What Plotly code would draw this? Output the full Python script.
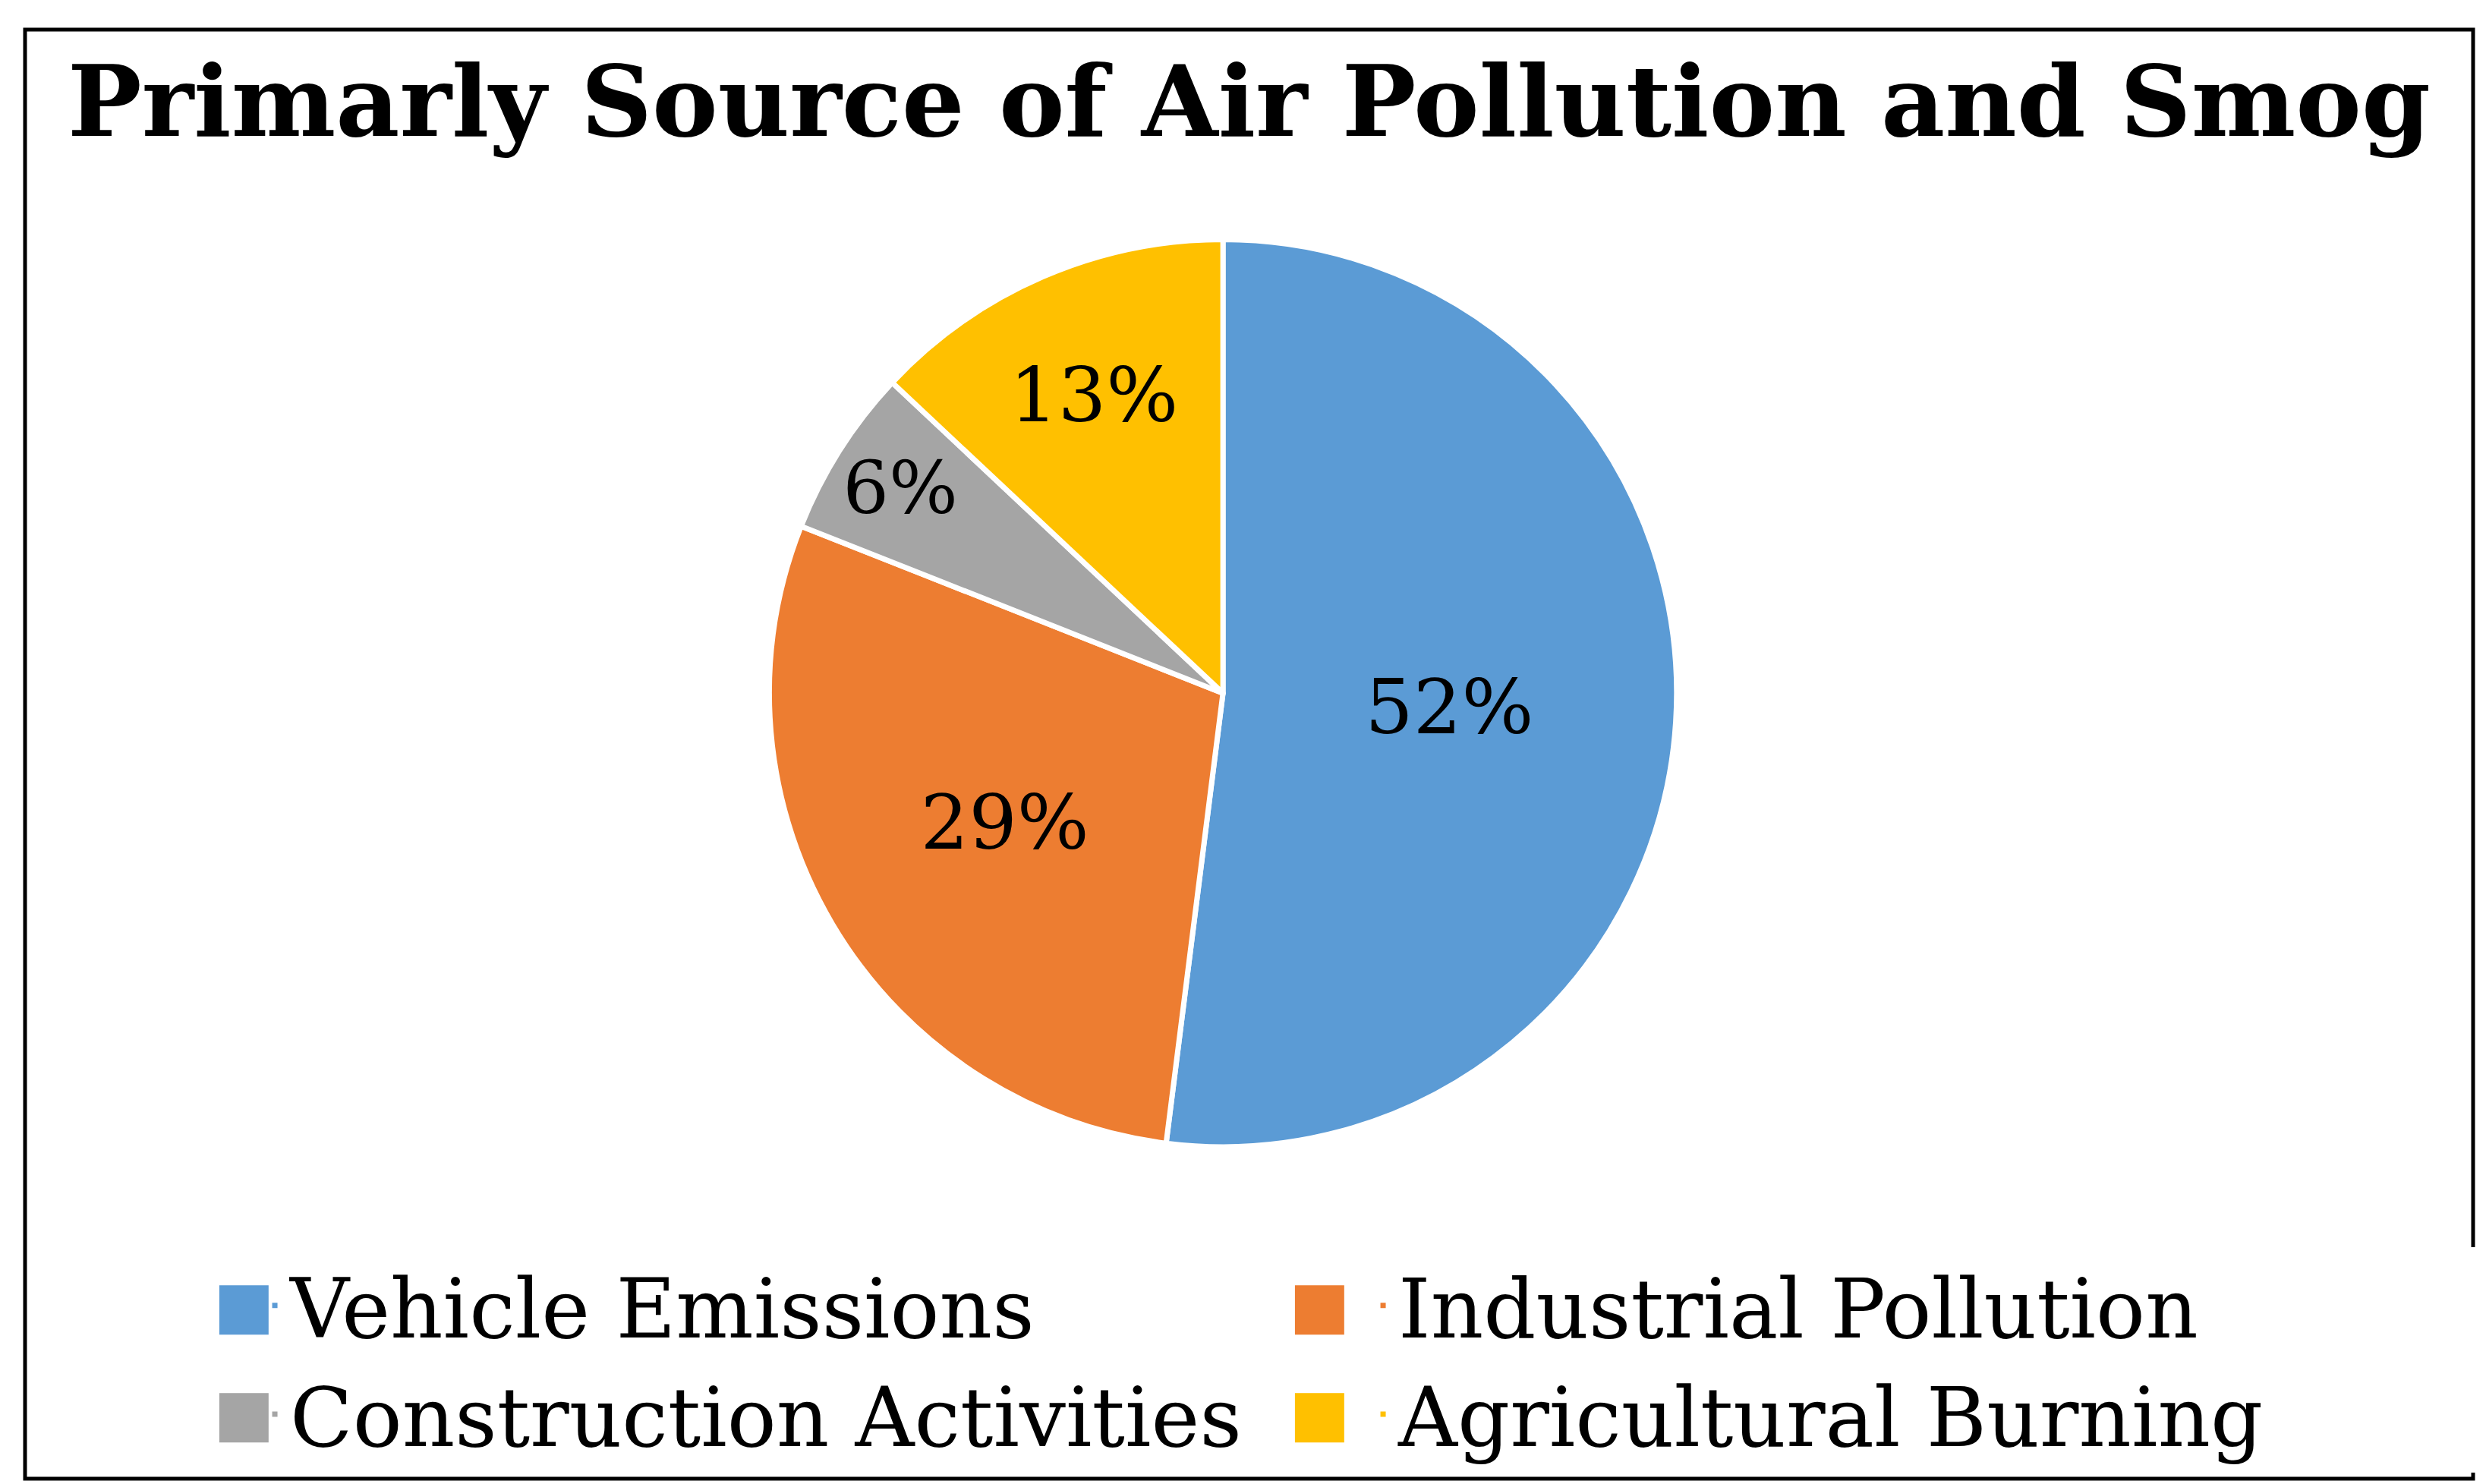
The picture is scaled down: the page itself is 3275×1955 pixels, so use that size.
import plotly.graph_objects as go

labels = ["Vehicle Emissions", "Industrial Pollution", "Construction Activities", "Agricultural Burning"]
values = [52, 29, 6, 13]
colors = ["#5B9BD5", "#ED7D31", "#A5A5A5", "#FFC000"]

W, H = 3275, 1955
SERIF = "DejaVu Serif"
fig = go.Figure(go.Pie(
    labels=labels, values=values, sort=False, direction="clockwise", rotation=0,
    marker=dict(colors=colors, line=dict(color="white", width=7)),
    texttemplate="%{percent:.0%}", textposition="inside", insidetextorientation="horizontal",
    textfont=dict(family=SERIF, size=100, color="black"),
    domain=dict(x=[0.307, 0.672], y=[0.231, 0.843]),
    hoverinfo="label+percent"
))

# legend swatches (larger squares than Plotly's built-in pie legend icons)
sq_x = [313, 1730, 313, 1730]
sq_y = [1710, 1710, 1852, 1852]
ann = [dict(text="■", x=sq_x[i] / W, y=1 - sq_y[i] / H, xref="paper", yref="paper",
            showarrow=False, font=dict(size=85, color=colors[i], family="DejaVu Sans"),
            xanchor="center", yanchor="middle") for i in range(4)]

fig.update_layout(
    width=W, height=H, margin=dict(l=0, r=0, t=0, b=0),
    paper_bgcolor="white",
    title=dict(text="<b>Primarly Source of Air Pollution and Smog</b>", x=0.5, xanchor="center",
               y=1 - 125 / H, yanchor="middle",
               font=dict(family=SERIF, size=130, color="black")),
    legend=dict(orientation="h", x=0.102, xanchor="left", y=1 - 1635 / H, yanchor="top",
                entrywidth=1415, entrywidthmode="pixels", traceorder="normal",
                font=dict(family=SERIF, size=108, color="black"),
                itemwidth=30),
    annotations=ann,
    shapes=[dict(type="rect", xref="paper", yref="paper", x0=25 / W, x1=3250 / W,
                 y0=1 - 1940 / H, y1=1 - 31 / H, line=dict(color="black", width=5))]
)
fig.write_html("out.html")
